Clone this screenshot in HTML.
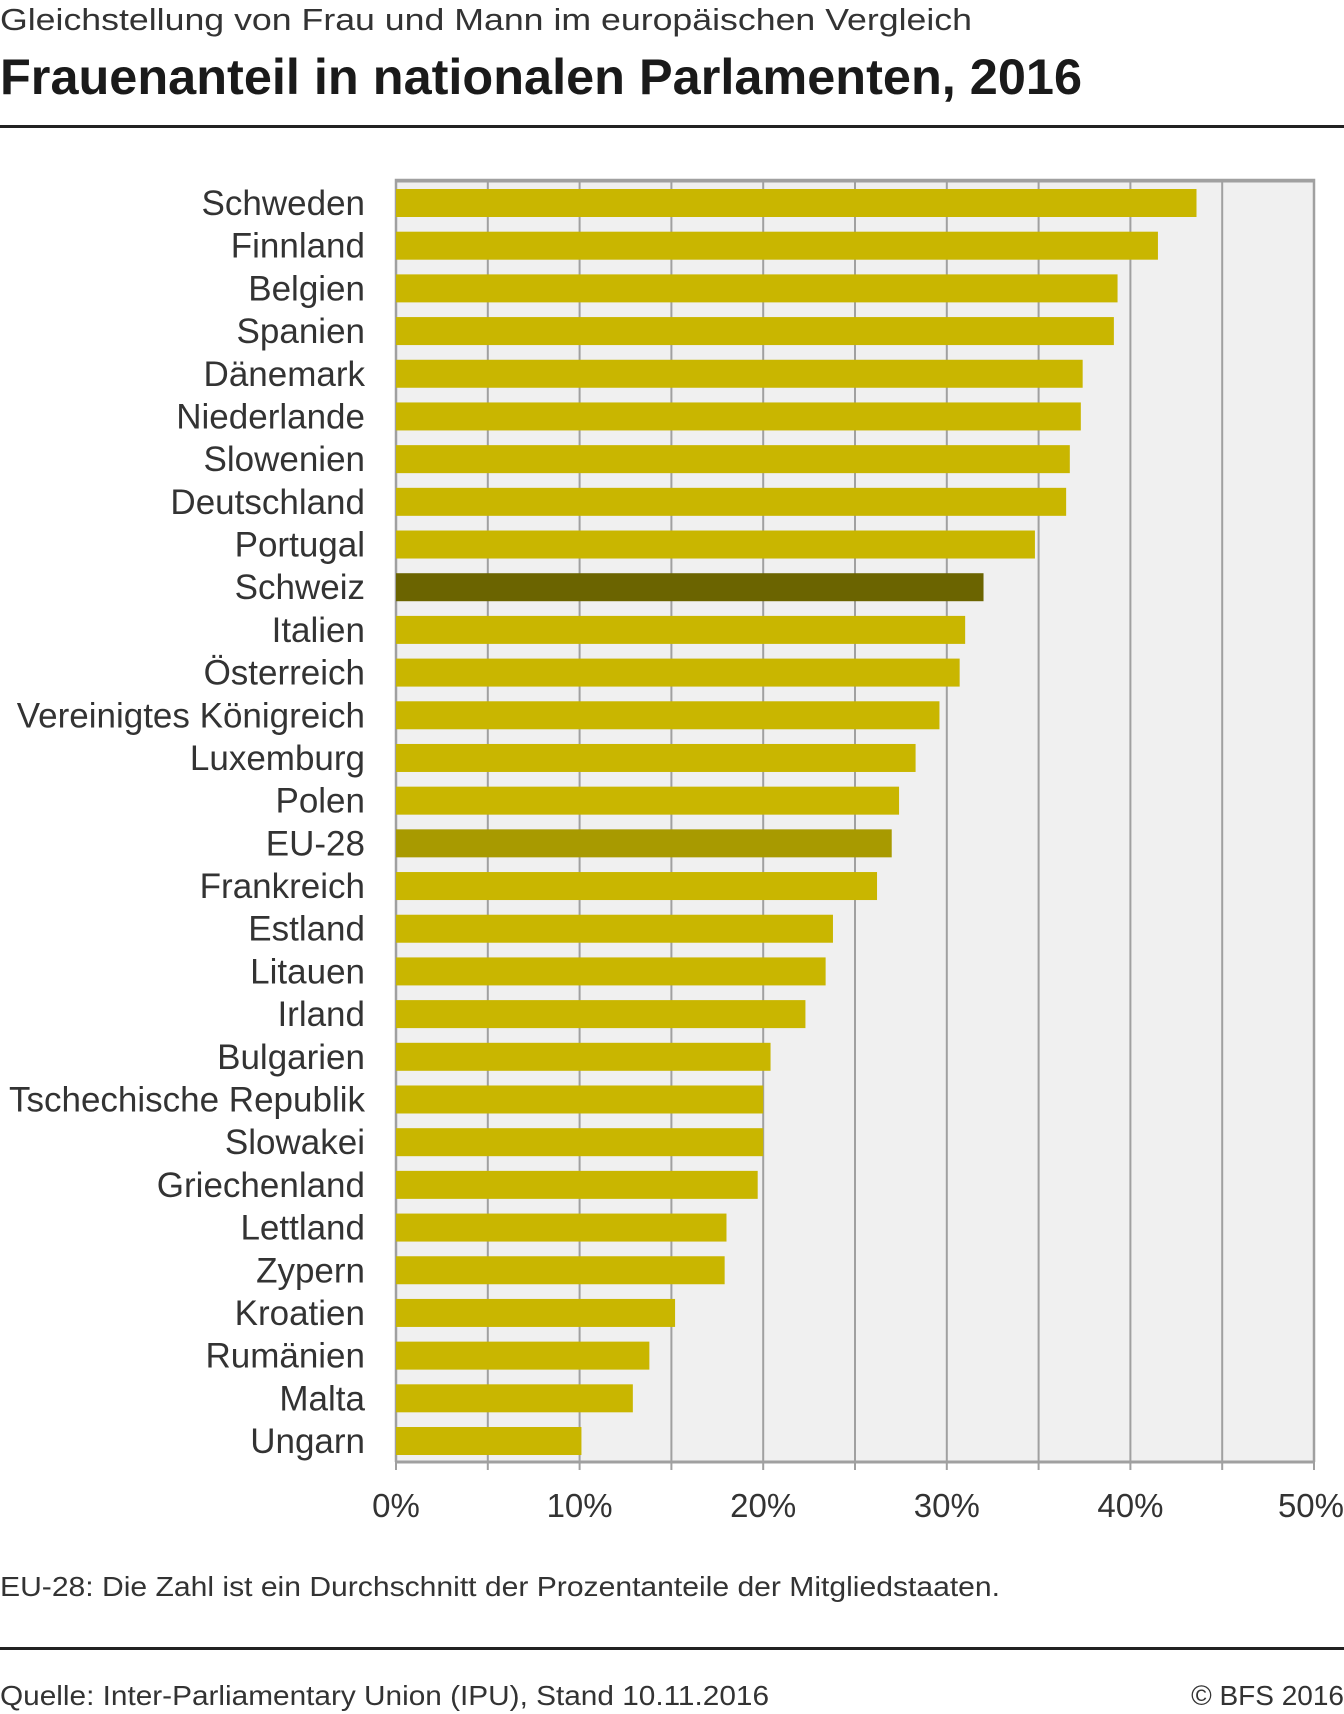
<!DOCTYPE html>
<html><head><meta charset="utf-8"><style>
html,body{margin:0;padding:0;background:#fff;}
svg{display:block;font-family:"Liberation Sans",sans-serif;}
</style></head><body>
<svg id="chart" width="1344" height="1714" viewBox="0 0 1344 1714" xmlns="http://www.w3.org/2000/svg">
<text x="0" y="30" font-size="31" fill="#333" textLength="972" lengthAdjust="spacingAndGlyphs">Gleichstellung von Frau und Mann im europäischen Vergleich</text>
<text x="0" y="94" font-size="50" font-weight="bold" fill="#1a1a1a" textLength="1082" lengthAdjust="spacingAndGlyphs">Frauenanteil in nationalen Parlamenten, 2016</text>
<rect x="0" y="125" width="1344" height="3" fill="#222"/>
<g id="plot"></g>
<text x="0" y="1596" font-size="28" fill="#333" textLength="1000" lengthAdjust="spacingAndGlyphs">EU-28: Die Zahl ist ein Durchschnitt der Prozentanteile der Mitgliedstaaten.</text>
<rect x="0" y="1647" width="1344" height="3" fill="#222"/>
<text x="0" y="1705" font-size="28" fill="#333" textLength="769" lengthAdjust="spacingAndGlyphs">Quelle: Inter-Parliamentary Union (IPU), Stand 10.11.2016</text>
<text x="1344" y="1705" font-size="28" fill="#333" text-anchor="end">© BFS 2016</text>
</svg>
<script>
const categories = ["Schweden","Finnland","Belgien","Spanien","Dänemark","Niederlande","Slowenien","Deutschland","Portugal","Schweiz","Italien","Österreich","Vereinigtes Königreich","Luxemburg","Polen","EU-28","Frankreich","Estland","Litauen","Irland","Bulgarien","Tschechische Republik","Slowakei","Griechenland","Lettland","Zypern","Kroatien","Rumänien","Malta","Ungarn"];
const values = [43.6,41.5,39.3,39.1,37.4,37.3,36.7,36.5,34.8,32.0,31.0,30.7,29.6,28.3,27.4,27.0,26.2,23.8,23.4,22.3,20.4,20.0,20.0,19.7,18.0,17.9,15.2,13.8,12.9,10.1];
const tickValues = [0,10,20,30,40,50];
const tickLabels = ["0%","10%","20%","30%","40%","50%"];
const gridValues = [5,10,15,20,25,30,35,40,45];

const NS = "http://www.w3.org/2000/svg";
const g = document.getElementById("plot");
const L = 396, R = 1314, T = 180, B = 1462;
const xMax = 50;
const x = v => L + (R - L) * v / xMax;
const rowTop = 189, pitch = 42.69, barH = 28;
const y = i => rowTop + i * pitch;
function mk(tag, attrs){ const e = document.createElementNS(NS, tag); for (const k in attrs) e.setAttribute(k, attrs[k]); g.appendChild(e); return e; }

const bg = mk("rect", {x:L, y:T, width:R-L, height:B-T, fill:"#f0f0f0"});


gridValues.forEach(v => {
  const l = mk("line", {x1:x(v), x2:x(v), y1:T, y2:B, stroke:"#a0a0a0", "stroke-width":2});
  
  
});
const frame = mk("path", {d:`M${L},${B} L${L},${T} L${R},${T} L${R},${B}`, fill:"none", stroke:"#a0a0a0", "stroke-width":2.5});


const topb = mk("line", {x1:L, x2:R, y1:T+1, y2:T+1, stroke:"#a0a0a0", "stroke-width":3});



categories.forEach((c, i) => {
  const col = c === "Schweiz" ? "#6b6400" : (c === "EU-28" ? "#a89a00" : "#c9b600");
  const r = mk("rect", {x:L, y:y(i), width:x(values[i]) - L, height:barH, fill:col});
  
  
  const t = mk("text", {x:365, y:y(i) + barH/2 + 12, "font-size":35, fill:"#333", "text-anchor":"end"});
  t.textContent = c;
  
  
});

const ax = mk("line", {x1:L, x2:R, y1:B, y2:B, stroke:"#a0a0a0", "stroke-width":3});


gridValues.concat([0,50]).forEach(v => {
  const tk = mk("line", {x1:x(v), x2:x(v), y1:B, y2:B+8, stroke:"#a0a0a0", "stroke-width":2});
  
  
});
tickValues.forEach((v, i) => {
  const t = mk("text", {x:x(v), y:1517, "font-size":33, fill:"#333", "text-anchor":"middle"});
  t.textContent = tickLabels[i];
  
  
  if (i === tickValues.length-1) { t.setAttribute("text-anchor","end"); t.setAttribute("x", 1344); }
});
</script>
</body></html>
